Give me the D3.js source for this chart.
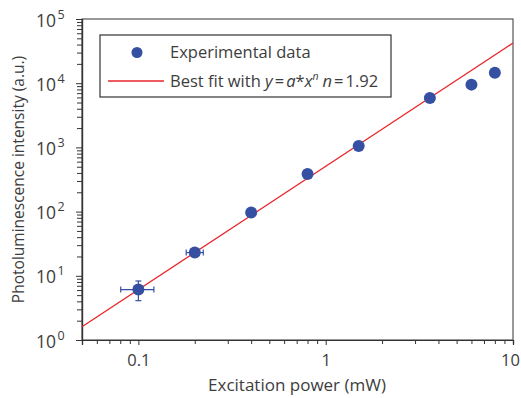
<!DOCTYPE html>
<html>
<head>
<meta charset="utf-8">
<script src="https://cdn.jsdelivr.net/npm/d3@7"></script>
<style>
  html, body { margin: 0; padding: 0; background: #fff; overflow: hidden; }
  svg { display: block; }
  text { font-family: "Open Sans", "Noto Sans", sans-serif; fill: #3d3d3d; }
</style>
</head>
<body>
<svg class="plot" width="521" height="398"></svg>
<script>
// data
const power = [0.1, 0.2, 0.4, 0.8, 1.5, 3.6, 6.0, 8.0];
const intensity = [6.1, 23, 97, 385, 1050, 5900, 9500, 14500];
const yErrLo = [4.1, 23, 97, 385, 1050, 5900, 9500, 14500];
const yErrHi = [8.3, 23, 97, 385, 1050, 5900, 9500, 14500];
const xErrLo = [0.0805, 0.18, 0.4, 0.8, 1.5, 3.6, 6.0, 8.0];
const xErrHi = [0.121, 0.222, 0.4, 0.8, 1.5, 3.6, 6.0, 8.0];
const fitA = 507;
const fitN = 1.92;
const xMajor = [0.1, 1, 10];
const xLabels = ["0.1", "1", "10"];
const yMajor = [1, 10, 100, 1000, 10000, 100000];
const yExp = ["0", "1", "2", "3", "4", "5"];

const svg = d3.select(".plot");
const width = +svg.attr("width");
const height = +svg.attr("height");
const margin = { top: 19, right: 8, bottom: 58, left: 82 };
const innerWidth = width - margin.left - margin.right;
const innerHeight = height - margin.top - margin.bottom;

const xScale = d3.scaleLog().domain([0.05, 10]).range([0, innerWidth]);
const yScale = d3.scaleLog().domain([1, 1e5]).range([innerHeight, 0]);

const g = svg.append("g")
  .attr("transform", `translate(${margin.left},${margin.top})`);

// minor tick values
const xMinor = [];
[0.01, 0.1, 1].forEach(b => {
  for (let k = 2; k <= 9; k++) {
    const v = b * k;
    if (v >= 0.05 && v <= 10) xMinor.push(v);
  }
});
const yMinor = [];
yMajor.slice(0, -1).forEach(b => {
  for (let k = 2; k <= 9; k++) yMinor.push(b * k);
});

const axisColor = "#333";

// frame
g.append("rect")
  .attr("width", innerWidth).attr("height", innerHeight)
  .attr("fill", "none").attr("stroke", "#555").attr("stroke-width", 1.2);

// x axis
const xMinAx = g.append("g").attr("transform", `translate(0,${innerHeight})`)
  .call(d3.axisBottom(xScale).tickValues(xMinor).tickSize(4));
xMinAx.selectAll("text").remove();
const xMajAx = g.append("g").attr("transform", `translate(0,${innerHeight})`)
  .call(d3.axisBottom(xScale).tickValues(xMajor).tickSize(5).tickPadding(9)
    .tickFormat((d, i) => xLabels[i]));
xMajAx.selectAll("text").style("font-size", "16.5px").attr("fill", "#3d3d3d");
xMajAx.selectAll("text").filter((d, i) => i === 2).attr("dx", -3);

// y axis
const yMinAx = g.append("g")
  .call(d3.axisLeft(yScale).tickValues(yMinor).tickSize(5));
yMinAx.selectAll("text").remove();
const yMajAx = g.append("g")
  .call(d3.axisLeft(yScale).tickValues(yMajor).tickSize(6));
yMajAx.selectAll("text").remove();
yMajAx.selectAll(".tick").each(function (d, i) {
  const tk = d3.select(this);
  tk.append("text")
    .attr("x", -26).attr("y", 7)
    .attr("text-anchor", "end")
    .style("font-size", "17.5px")
    .text("10");
  tk.append("text")
    .attr("x", -24.5).attr("y", -1)
    .attr("text-anchor", "start")
    .style("font-size", "12.5px")
    .text(yExp[i]);
});

[xMinAx, xMajAx, yMinAx, yMajAx].forEach(a => {
  a.select(".domain").attr("stroke", axisColor).attr("stroke-width", 1.2);
  a.selectAll(".tick line").attr("stroke", axisColor).attr("stroke-width", 1);
});

// fit line
const fitX = [0.05, 10];
g.append("line")
  .attr("x1", xScale(fitX[0])).attr("y1", yScale(fitA * Math.pow(fitX[0], fitN)))
  .attr("x2", xScale(fitX[1])).attr("y2", yScale(fitA * Math.pow(fitX[1], fitN)))
  .attr("stroke", "#e8262b").attr("stroke-width", 1.3);

// error bars
const blue = "#3550a2";
const pts = power.map((p, i) => ({ p, v: intensity[i], i }));
const eb = g.append("g").attr("stroke", blue).attr("stroke-width", 1.2);
pts.forEach(d => {
  const i = d.i;
  if (xErrHi[i] !== xErrLo[i]) {
    eb.append("line").attr("x1", xScale(xErrLo[i])).attr("x2", xScale(xErrHi[i]))
      .attr("y1", yScale(d.v)).attr("y2", yScale(d.v));
    [xErrLo[i], xErrHi[i]].forEach(x => eb.append("line")
      .attr("x1", xScale(x)).attr("x2", xScale(x))
      .attr("y1", yScale(d.v) - 3).attr("y2", yScale(d.v) + 3));
  }
  if (yErrHi[i] !== yErrLo[i]) {
    eb.append("line").attr("x1", xScale(d.p)).attr("x2", xScale(d.p))
      .attr("y1", yScale(yErrLo[i])).attr("y2", yScale(yErrHi[i]));
    [yErrLo[i], yErrHi[i]].forEach(y => eb.append("line")
      .attr("x1", xScale(d.p) - 3).attr("x2", xScale(d.p) + 3)
      .attr("y1", yScale(y)).attr("y2", yScale(y)));
  }
});

g.selectAll("circle.pt").data(pts)
  .enter().append("circle")
    .attr("class", "pt")
    .attr("cx", d => xScale(d.p))
    .attr("cy", d => yScale(d.v))
    .attr("r", 6)
    .attr("fill", blue);

// legend
const lg = svg.append("g").attr("transform", "translate(100,35)");
lg.append("rect").attr("width", 291).attr("height", 62)
  .attr("fill", "#fff").attr("stroke", "#333").attr("stroke-width", 1.2);
lg.append("circle").attr("cx", 37).attr("cy", 17.5).attr("r", 5.5).attr("fill", blue);
lg.append("line").attr("x1", 8).attr("x2", 64).attr("y1", 46).attr("y2", 46)
  .attr("stroke", "#e8262b").attr("stroke-width", 1.3);
lg.append("text").attr("x", 70).attr("y", 23).style("font-size", "16.5px")
  .text("Experimental data");
const ft = lg.append("text").attr("x", 70).attr("y", 52).style("font-size", "16.5px");
ft.append("tspan").text("Best fit with ");
ft.append("tspan").text("y").style("font-style", "italic");
ft.append("tspan").text("=").attr("dx", 2);
ft.append("tspan").text("a").style("font-style", "italic").attr("dx", 2);
ft.append("tspan").text("*");
ft.append("tspan").text("x").style("font-style", "italic");
ft.append("tspan").text("n").style("font-style", "italic").style("font-size", "10.5px").attr("dy", -7);
ft.append("tspan").text("n").style("font-style", "italic").attr("dy", 7).attr("dx", 4);
ft.append("tspan").text("=").attr("dx", 2);
ft.append("tspan").text("1.92").attr("dx", 2);

// axis titles
svg.append("text")
  .attr("x", 297).attr("y", 391)
  .attr("text-anchor", "middle").style("font-size", "17px")
  .text("Excitation power (mW)");
svg.append("text")
  .attr("transform", `translate(24,${margin.top + innerHeight / 2}) rotate(-90)`)
  .attr("text-anchor", "middle").style("font-size", "15.5px")
  .text("Photoluminescence intensity (a.u.)");
</script>
</body>
</html>
